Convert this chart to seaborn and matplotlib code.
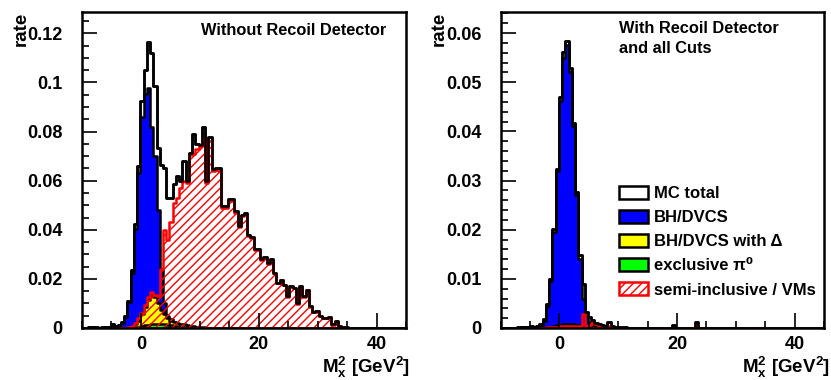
import numpy as np
import pandas as pd
import matplotlib
matplotlib.use("Agg")
import matplotlib.pyplot as plt
import matplotlib.patches as mpatches
from matplotlib.ticker import MultipleLocator, FuncFormatter
import seaborn as sns

# Binning in Mx^2 [GeV^2]: 100 bins from -10 to 45
n_bins = 100
x_lo, x_hi = -10.0, 45.0
edges = np.linspace(x_lo, x_hi, n_bins + 1)
centres = 0.5 * (edges[:-1] + edges[1:])

# --- Left panel: without recoil detector (rate per bin, starting at the first bin) ---
left_total = [
    0, 0, 0.0004, 0.0005, 0.0003, 0.0002, 0.0003, 0.0004, 0.0006, 0.0018,
    0.0010, 0.0014, 0.0025, 0.0048, 0.0110, 0.0235, 0.0425, 0.0660, 0.0925, 0.1050,
    0.1165, 0.1120, 0.0985, 0.0735, 0.0665, 0.0650, 0.0530, 0.0530, 0.0585, 0.0620,
    0.0600, 0.0680, 0.0600, 0.0714, 0.0790, 0.0748, 0.0745, 0.0820, 0.0600, 0.0776,
    0.0646, 0.0653, 0.0650, 0.0497, 0.0497, 0.0524, 0.0524, 0.0476, 0.0415, 0.0460,
    0.0470, 0.0380, 0.0370, 0.0320, 0.0320, 0.0280, 0.0290, 0.0265, 0.0280, 0.0225,
    0.0184, 0.0197, 0.0177, 0.0129, 0.0170, 0.0163, 0.0100, 0.0170, 0.0130, 0.0156,
    0.0088, 0.0065, 0.0068, 0.0050, 0.0040, 0.0040, 0.0045, 0.0015, 0.0027, 0.0008,
    0.0005, 0.0003, 0.0002]
left_bh = [
    0, 0, 0.0003, 0.0004, 0.0002, 0.0001, 0.0002, 0.0003, 0.0005, 0.0016,
    0.0009, 0.0012, 0.0022, 0.0044, 0.0104, 0.0225, 0.0405, 0.0630, 0.0860, 0.0955,
    0.0978, 0.0820, 0.0700, 0.0480, 0.0240, 0.0100, 0.0050, 0.0035, 0.0025, 0.0015,
    0.0010, 0.0008, 0.0006, 0.0004, 0.0003, 0.0002, 0.0001]
left_delta = [
    0, 0, 0, 0, 0, 0, 0, 0, 0, 0,
    0, 0, 0, 0, 0.0002, 0.0006, 0.0015, 0.0030, 0.0055, 0.0085,
    0.0115, 0.0135, 0.0125, 0.0100, 0.0075, 0.0055, 0.0040, 0.0030, 0.0025, 0.0020,
    0.0018, 0.0015, 0.0012, 0.0010, 0.0008, 0.0006, 0.0004, 0.0003, 0.0002, 0.0002,
    0.0001]
left_pi0 = [
    0, 0, 0, 0, 0, 0, 0, 0, 0, 0,
    0, 0, 0, 0, 0, 0.0001, 0.0003, 0.0006, 0.0009, 0.0012,
    0.0014, 0.0016, 0.0017, 0.0017, 0.0016, 0.0015, 0.0013, 0.0011, 0.0009, 0.0007,
    0.0005, 0.0004, 0.0003, 0.0002, 0.0001]
left_sidis = [
    0, 0, 0, 0, 0, 0, 0, 0, 0, 0,
    0, 0, 0, 0, 0.0005, 0.0010, 0.0020, 0.0040, 0.0060, 0.0095,
    0.0125, 0.0145, 0.0135, 0.0130, 0.0240, 0.0400, 0.0360, 0.0430, 0.0510, 0.0530,
    0.0570, 0.0600, 0.0590, 0.0705, 0.0710, 0.0730, 0.0740, 0.0770, 0.0590, 0.0760,
    0.0640, 0.0645, 0.0640, 0.0490, 0.0490, 0.0518, 0.0518, 0.0470, 0.0410, 0.0455,
    0.0465, 0.0376, 0.0366, 0.0316, 0.0316, 0.0277, 0.0287, 0.0262, 0.0277, 0.0222,
    0.0182, 0.0195, 0.0175, 0.0127, 0.0168, 0.0161, 0.0098, 0.0168, 0.0128, 0.0154,
    0.0086, 0.0064, 0.0067, 0.0049, 0.0039, 0.0039, 0.0044, 0.0014, 0.0026, 0.0007,
    0.0004, 0.0002]

# --- Right panel: with recoil detector and all cuts ---
right_total = [
    0, 0, 0, 0, 0, 0.0002, 0.0003, 0.0003, 0.0002, 0.0004,
    0.0003, 0.0004, 0.0008, 0.0018, 0.0048, 0.0100, 0.0201, 0.0324, 0.0470, 0.0562,
    0.0585, 0.0529, 0.0418, 0.0277, 0.0148, 0.0090, 0.0032, 0.0022, 0.0016, 0.0011,
    0.0008, 0.0006, 0.0005, 0.0012, 0.0004, 0.0003, 0.0003, 0.0002, 0.0002, 0.0001,
    0.0001, 0, 0, 0, 0, 0, 0, 0, 0, 0,
    0, 0, 0, 0.0006, 0, 0, 0, 0, 0, 0,
    0.0012]
right_bh = [
    0, 0, 0, 0, 0, 0.0001, 0.0002, 0.0002, 0.0001, 0.0002,
    0.0002, 0.0003, 0.0006, 0.0015, 0.0045, 0.0095, 0.0195, 0.0320, 0.0462, 0.0550,
    0.0575, 0.0520, 0.0412, 0.0270, 0.0140, 0.0060, 0.0025, 0.0012, 0.0008, 0.0005,
    0.0003, 0.0002, 0.0001, 0.0001]
right_delta = [
    0, 0, 0, 0, 0, 0, 0, 0, 0, 0,
    0, 0, 0, 0.0001, 0.0002, 0.0003, 0.0004, 0.0006, 0.0007, 0.0008,
    0.0009, 0.0009, 0.0008, 0.0007, 0.0006, 0.0005, 0.0004, 0.0003, 0.0002, 0.0001]
right_pi0 = [
    0, 0, 0, 0, 0, 0, 0, 0, 0, 0,
    0, 0, 0, 0, 0, 0, 0.0001, 0.0002, 0.0003, 0.0004,
    0.0005, 0.0006, 0.0006, 0.0005, 0.0004, 0.0002, 0.0001]
right_sidis = [
    0, 0, 0, 0, 0, 0, 0, 0, 0, 0,
    0, 0, 0, 0.0001, 0.0002, 0.0002, 0.0003, 0.0003, 0.0004, 0.0004,
    0.0004, 0.0004, 0.0005, 0.0005, 0.0005, 0.0029, 0.0004, 0.0006, 0.0011, 0.0008,
    0.0005, 0.0004, 0.0003, 0.0004, 0.0002, 0.0002, 0.0002, 0.0001, 0.0001, 0.0001,
    0, 0, 0, 0, 0, 0, 0, 0, 0, 0,
    0, 0, 0, 0.0004, 0, 0, 0, 0, 0, 0,
    0.0006]

legend_labels = ["MC total", "BH/DVCS", "BH/DVCS with \u0394",
                 "exclusive \u03c0\u2070", "semi-inclusive / VMs"]

sns.set_theme(style="white")
plt.rcParams["font.family"] = ["Liberation Sans", "DejaVu Sans"]
plt.rcParams["font.weight"] = "bold"
plt.rcParams["text.color"] = "black"
plt.rcParams["axes.labelcolor"] = "black"
plt.rcParams["xtick.color"] = "black"
plt.rcParams["ytick.color"] = "black"
plt.rcParams["mathtext.fontset"] = "custom"
plt.rcParams["mathtext.rm"] = "Liberation Sans:bold"
plt.rcParams["mathtext.it"] = "Liberation Sans:bold"
plt.rcParams["mathtext.bf"] = "Liberation Sans:bold"
plt.rcParams["hatch.linewidth"] = 1.0

LW = 1.8
BLUE, YELLOW, GREEN, RED = "#0000ff", "#ffff00", "#00ff00", "#ff0000"


def hist(ax, vals, **kw):
    df = pd.DataFrame({"mx2": centres[:len(vals)], "rate": np.asarray(vals, dtype=float)})
    sns.histplot(data=df, x="mx2", weights="rate", bins=edges.tolist(),
                 element="step", ax=ax, linewidth=LW, **kw)


def draw_panel(ax, total, bh, delta, pi0, sidis, ymax, ymajor, yminor):
    hist(ax, total, fill=True, color="white", facecolor="white", edgecolor="black",
         alpha=1, zorder=1.0)
    hist(ax, bh, fill=True, color=BLUE, facecolor=BLUE, edgecolor="black",
         alpha=1, zorder=1.1)
    hist(ax, delta, fill=True, color=YELLOW, facecolor=YELLOW, edgecolor="black",
         alpha=1, zorder=1.2)
    hist(ax, pi0, fill=True, color=GREEN, facecolor=GREEN, edgecolor="black",
         alpha=1, zorder=1.3)
    hist(ax, sidis, fill=True, color=RED, facecolor="none", edgecolor=RED, hatch="////",
         alpha=1, zorder=1.4)
    hist(ax, total, fill=False, color="black", zorder=1.6)

    ax.set_axisbelow(False)
    ax.set_xlim(x_lo, x_hi)
    ax.set_ylim(0, ymax)
    ax.set_xlabel("")
    ax.set_ylabel("")
    ax.xaxis.set_major_locator(MultipleLocator(20))
    ax.xaxis.set_minor_locator(MultipleLocator(5))
    ax.yaxis.set_major_locator(MultipleLocator(ymajor))
    ax.yaxis.set_minor_locator(MultipleLocator(yminor))
    ax.yaxis.set_major_formatter(FuncFormatter(lambda v, p: f"{v:g}"))
    ax.tick_params(which="both", direction="in", top=False, right=False,
                   bottom=True, left=True, width=1.2, color="black")
    ax.tick_params(which="major", length=10.5, labelsize=13, labelcolor="black")
    ax.tick_params(which="minor", length=5)
    ax.tick_params(axis="x", which="major", pad=6.0)
    ax.tick_params(axis="y", which="major", pad=14.0)
    for s in ax.spines.values():
        s.set_linewidth(1.8)
        s.set_color("black")
        s.set_zorder(3)
    for lab in ax.get_xticklabels() + ax.get_yticklabels():
        lab.set_fontweight("bold")


fig = plt.figure(figsize=(8.31, 3.8), dpi=100)
W, H = 831, 380
ax_l = fig.add_axes([82 / W, 52 / H, 324 / W, 316 / H])
ax_r = fig.add_axes([500.7 / W, 52 / H, 323.3 / W, 316 / H])

draw_panel(ax_l, left_total, left_bh, left_delta, left_pi0, left_sidis,
           0.1287, 0.02, 0.005)
draw_panel(ax_r, right_total, right_bh, right_delta, right_pi0, right_sidis,
           0.0643, 0.01, 0.002)

# panel captions
fig.text(200.7 / W, 1 - 35 / H, "Without Recoil Detector", ha="left", va="baseline",
         fontsize=11.8, fontweight="bold")
fig.text(619 / W, 1 - 33.3 / H, "With Recoil Detector", ha="left", va="baseline",
         fontsize=11.8, fontweight="bold")
fig.text(619 / W, 1 - 53.3 / H, "and all Cuts", ha="left", va="baseline",
         fontsize=11.8, fontweight="bold")

# axis titles
for xl, xr in [(21 / W, 410 / W), (439 / W, 830 / W)]:
    fig.text(xl, 1 - 11.5 / H, "rate", rotation=90, ha="center", va="top",
             fontsize=13.5, fontweight="bold")
    fig.text(xr, 6.5 / H, r"$\mathrm{M_{x}^{2}\ [GeV^{2}]}$", ha="right", va="baseline",
             fontsize=13.5, fontweight="bold")

# legend
handles = [
    mpatches.Patch(facecolor="white", edgecolor="black", linewidth=LW),
    mpatches.Patch(facecolor=BLUE, edgecolor="black", linewidth=LW),
    mpatches.Patch(facecolor=YELLOW, edgecolor="black", linewidth=LW),
    mpatches.Patch(facecolor=GREEN, edgecolor="black", linewidth=LW),
    mpatches.Patch(facecolor="white", edgecolor=RED, hatch="////", linewidth=LW),
]
leg = ax_r.legend(handles, legend_labels, loc="upper left", bbox_to_anchor=(0.366, 0.45),
                  frameon=False, borderpad=0, borderaxespad=0, handlelength=1.75,
                  handleheight=0.85, handletextpad=0.37, labelspacing=0.52,
                  prop={"size": 12, "weight": "bold"})

fig.savefig("out.png", dpi=100, facecolor="white")
